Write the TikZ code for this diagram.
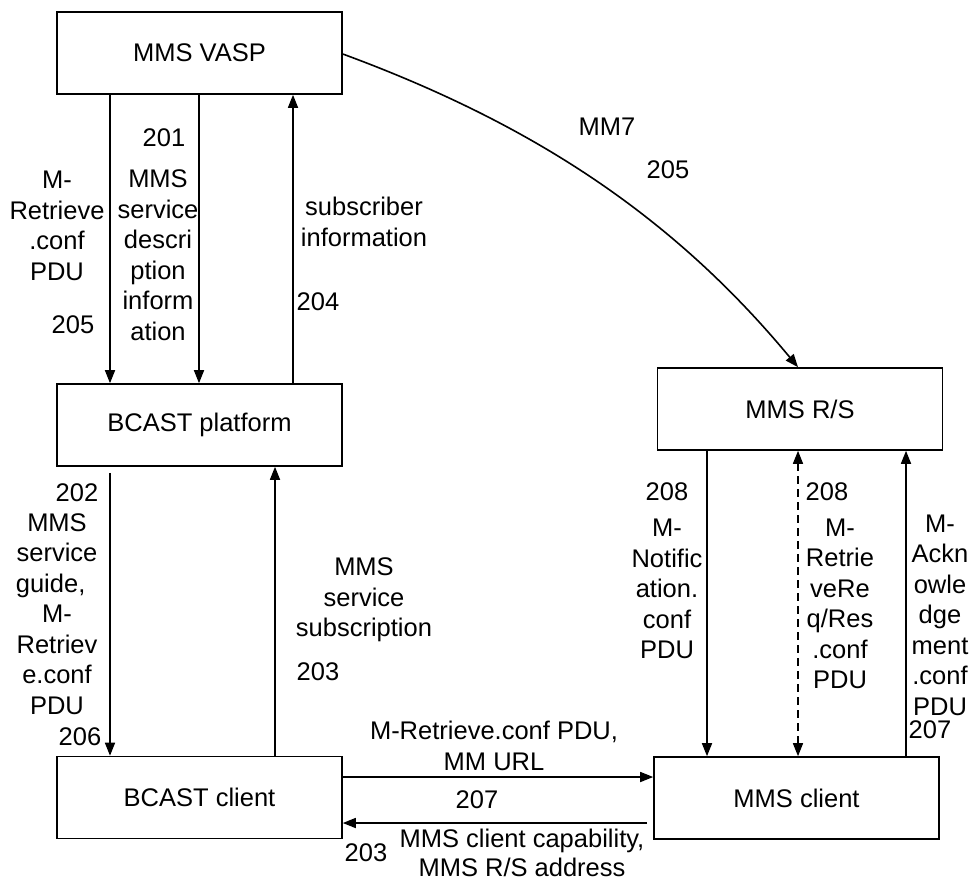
\documentclass[tikz,border=0pt]{standalone}
\usepackage{fontspec}
\setmainfont{Liberation Sans}
\usetikzlibrary{arrows.meta}
\tikzset{
  box/.style={draw, line width=1.6pt, minimum width=285pt, minimum height=82pt, inner sep=0pt, font=\fontsize{25.5}{30}\selectfont},
  lbl/.style={inner sep=0pt, align=center, font=\fontsize{25.5}{30.5}\selectfont},
  arr/.style={line width=1.6pt, -{Triangle[length=13pt,width=10pt]}},
  darr/.style={line width=1.4pt, dash pattern=on 8pt off 5pt, {Triangle[length=13pt,width=10pt]}-{Triangle[length=13pt,width=10pt]}}
}
\begin{document}
\begin{tikzpicture}[x=1pt,y=-1pt]
\useasboundingbox (0,0) rectangle (972,884);
% boxes
\node[box] (vasp) at (199.5,53) {MMS VASP};
\node[box] (plat) at (199.5,425) {BCAST platform};
\node[box] (bc) at (199.5,797.5) {BCAST client};
\node[box] (rs) at (800,409) {MMS R/S};
\node[box] (mc) at (796.5,798) {MMS client};
% left column arrows
\draw[arr] (vasp.south -| 110,0) -- (plat.north -| 110,0);
\draw[arr] (vasp.south -| 199,0) -- (plat.north -| 199,0);
\draw[arr] (plat.north -| 293,0) -- (vasp.south -| 293,0);
\draw[arr] ([yshift=-6pt]plat.south -| 110,0) -- (bc.north -| 110,0);
\draw[arr] (bc.north -| 275,0) -- (plat.south -| 275,0);
% curve MM7
\draw[arr] (vasp.east |- 0,54) .. controls (530,123) and (671,214) .. (rs.north -| 798,0);
% right column arrows
\draw[arr] (rs.south -| 707,0) -- (mc.north -| 707,0);
\draw[darr] (rs.south -| 798,0) -- (mc.north -| 798,0);
\draw[arr] (mc.north -| 906,0) -- (rs.south -| 906,0);
% bottom horizontal
\draw[arr] (bc.east |- 0,777) -- (mc.west |- 0,777);
\draw[arr] ([xshift=-6pt]mc.west |- 0,823) -- (bc.east |- 0,823);
% labels
\node[lbl] (t1) at (57,226) {M-\\Retrieve\\.conf\\PDU};
\node[lbl] (t2) at (73,325) {205};
\node[lbl] (t3) at (164,138) {201};
\node[lbl] (t4) at (158,255) {MMS\\service\\descri\\ption\\inform\\ation};
\node[lbl] (t5) at (364,222) {subscriber\\information};
\node[lbl] (t6) at (318,302) {204};
\node[lbl] (t7) at (607,127) {MM7};
\node[lbl] (t8) at (668,170) {205};
\node[lbl] (t9) at (77,493) {202};
\node[lbl] (t10) at (57,614) {MMS\\service\\guide,\kern0.5em\\M-\\Retriev\\e.conf\\PDU};
\node[lbl] (t11) at (80,737) {206};
\node[lbl] (t12) at (364,600) {MMS\\service\\subscription};
\node[lbl] (t13) at (318,672) {203};
\node[lbl] (t14) at (494,746) {M-Retrieve.conf PDU,\\MM URL};
\node[lbl] (t15) at (477,800) {207};
\node[lbl] (t16) at (366,853) {203};
\node[lbl, font=\fontsize{25.5}{28.5}\selectfont] (t17) at (522,853) {MMS client capability,\\MMS R/S address};
\node[lbl] (t18) at (667,492) {208};
\node[lbl] (t19) at (667,589) {M-\\Notific\\ation.\\conf\\PDU};
\node[lbl] (t20) at (827,492) {208};
\node[lbl] (t21) at (840,604) {M-\\Retrie\\veRe\\q/Res\\.conf\\PDU};
\node[lbl] (t22) at (940,615) {M-\\Ackn\\owle\\dge\\ment\\.conf\\PDU};
\node[lbl] (t23) at (930,730) {207};
\end{tikzpicture}
\end{document}
